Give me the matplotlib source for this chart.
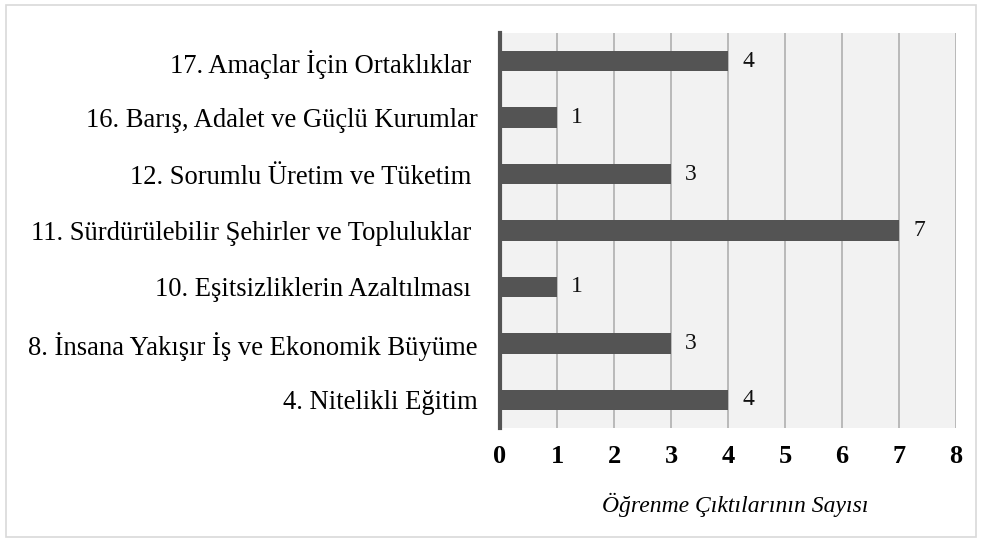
import numpy as np
import matplotlib as mpl
mpl.use('Agg')
import matplotlib.pyplot as plt
from matplotlib.patches import Rectangle

# data (bottom to top)
labels = ['4. Nitelikli Eğitim',
          '8. İnsana Yakışır İş ve Ekonomik Büyüme',
          '10. Eşitsizliklerin Azaltılması ',
          '11. Sürdürülebilir Şehirler ve Topluluklar ',
          '12. Sorumlu Üretim ve Tüketim ',
          '16. Barış, Adalet ve Güçlü Kurumlar',
          '17. Amaçlar İçin Ortaklıklar ']
values = [4, 3, 1, 7, 3, 1, 4]
xticks = [0, 1, 2, 3, 4, 5, 6, 7, 8]

plt.rcParams['font.family'] = ['Liberation Serif', 'DejaVu Serif']

fig = plt.figure(figsize=(9.83, 5.39), dpi=100)
ax = fig.add_axes([0.5087, 0.2059, 0.4638, 0.7329])

y = np.arange(len(labels))
ax.barh(y, values, height=0.36, color='#545454', zorder=3)
for yi, v in zip(y, values):
    ax.text(v + 0.25, yi, str(v), va='center', ha='left', fontsize=17, color='#111111')

ax.set_facecolor('#f2f2f2')
ax.set_xlim(0, 8)
ax.set_ylim(-0.5, len(labels) - 0.5)
ax.set_xticks(xticks)
ax.set_xticklabels([str(t) for t in xticks], fontsize=19, fontweight='bold')
ax.set_yticks(y)
ax.set_yticklabels(labels, fontsize=19.2)
ax.tick_params(axis='both', length=0)
ax.tick_params(axis='x', pad=12)
ax.tick_params(axis='y', pad=16)
ax.grid(axis='x', color='#b4b4b4', linewidth=1.3, zorder=0)
for s in ['top', 'right', 'bottom']:
    ax.spines[s].set_visible(False)
ax.spines['left'].set_color('#545454')
ax.spines['left'].set_linewidth(3)
ax.spines['left'].set_zorder(4)

ax.set_xlabel('Öğrenme Çıktılarının Sayısı', fontsize=17, style='italic', labelpad=18)
ax.xaxis.label.set_x(0.515)

fig.patches.append(Rectangle((6 / 983, 2 / 539), 970 / 983, 532 / 539, transform=fig.transFigure,
                             fill=False, edgecolor='#d9d9d9', linewidth=1.2))

plt.savefig('out.png', dpi=100)
